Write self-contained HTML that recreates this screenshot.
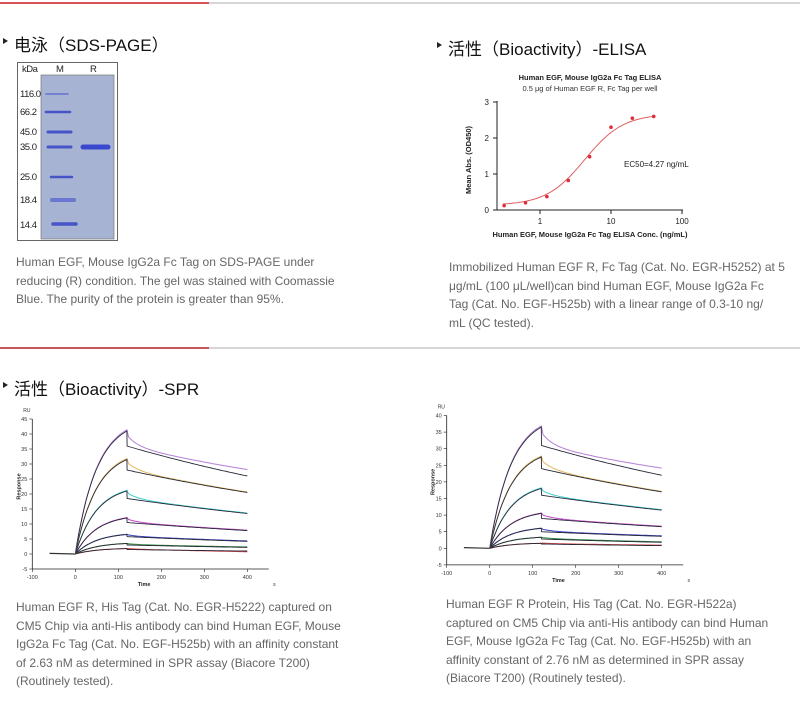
<!DOCTYPE html>
<html><head><meta charset="utf-8"><style>
body{margin:0;width:800px;height:718px;background:#fff;overflow:hidden;position:relative;font-family:"Liberation Sans","Noto Sans CJK SC",sans-serif}
.a{position:absolute}
.h{position:absolute;font-size:17px;color:#111;white-space:nowrap}
.h:before{content:"";position:absolute;left:-11px;top:7px;border-left:5px solid #222;border-top:3px solid transparent;border-bottom:3px solid transparent}
.c{position:absolute;font-size:12px;color:#666;line-height:18.5px;white-space:nowrap}
</style></head><body>
<div class="a" style="left:0;top:2px;width:800px;height:2px;background:#d6d6d6"></div>
<div class="a" style="left:0;top:2px;width:209px;height:2px;background:#d9535a"></div>
<div class="a" style="left:0;top:347px;width:800px;height:2px;background:#d6d6d6"></div>
<div class="a" style="left:0;top:347px;width:209px;height:2px;background:#c9585c"></div>

<div class="h" style="left:14px;top:31px">电泳（SDS-PAGE）</div>
<div class="h" style="left:448px;top:35px">活性（Bioactivity）-ELISA</div>
<div class="h" style="left:14px;top:375px">活性（Bioactivity）-SPR</div>

<svg class="a" style="left:0;top:0" width="800" height="718">
<g font-family="Liberation Sans,sans-serif">
<rect x="17.5" y="62.5" width="100" height="178" fill="#fff" stroke="#666"/>
<rect x="41" y="75" width="73" height="164" fill="#a7b3d3" stroke="#777" stroke-width="0.7"/>
<g font-size="9.5" fill="#222" letter-spacing="-0.5">
<text x="22" y="72">kDa</text><text x="56" y="72">M</text><text x="90" y="72">R</text>
<text x="20" y="97">116.0</text><text x="20" y="115">66.2</text><text x="20" y="135">45.0</text><text x="20" y="150">35.0</text><text x="20" y="180">25.0</text><text x="20" y="203">18.4</text><text x="20" y="228">14.4</text>
</g>
<g stroke="#4654c8" stroke-linecap="round">
<line x1="46" y1="94" x2="68" y2="94" stroke-width="1.5" stroke="#6570cc"/>
<line x1="46" y1="112" x2="70" y2="112" stroke-width="2.5"/>
<line x1="48" y1="132" x2="71" y2="132" stroke-width="3"/>
<line x1="48" y1="147" x2="71" y2="147" stroke-width="3"/>
<line x1="51" y1="177" x2="72" y2="177" stroke-width="2.5"/>
<line x1="52" y1="200" x2="74" y2="200" stroke-width="4" stroke="#6a76d2"/>
<line x1="53" y1="224" x2="76" y2="224" stroke-width="3.5"/>
<line x1="83" y1="147" x2="108" y2="147" stroke-width="5" stroke="#3a48d0"/>
</g>

<text x="590" y="80" font-size="7.5" font-weight="bold" text-anchor="middle" fill="#222">Human EGF, Mouse IgG2a Fc Tag ELISA</text>
<text x="590" y="91" font-size="7.5" text-anchor="middle" fill="#333">0.5 μg of Human EGF R, Fc Tag per well</text>
<g stroke="#222" stroke-width="1">
<line x1="497" y1="101" x2="497" y2="210"/><line x1="497" y1="210" x2="683" y2="210"/>
<line x1="493" y1="102" x2="497" y2="102"/><line x1="493" y1="138" x2="497" y2="138"/><line x1="493" y1="174" x2="497" y2="174"/><line x1="493" y1="210" x2="497" y2="210"/>
<line x1="540" y1="210" x2="540" y2="214"/><line x1="611" y1="210" x2="611" y2="214"/><line x1="682" y1="210" x2="682" y2="214"/>
</g>
<g font-size="8" fill="#222">
<text x="489" y="105" text-anchor="end">3</text><text x="489" y="141" text-anchor="end">2</text><text x="489" y="177" text-anchor="end">1</text><text x="489" y="213" text-anchor="end">0</text>
<text x="540" y="224" text-anchor="middle">1</text><text x="611" y="224" text-anchor="middle">10</text><text x="682" y="224" text-anchor="middle">100</text>
<text x="624" y="167">EC50=4.27 ng/mL</text>
</g>
<text x="590" y="237" font-size="7.5" font-weight="bold" text-anchor="middle" fill="#222">Human EGF, Mouse IgG2a Fc Tag ELISA Conc. (ng/mL)</text>
<text transform="translate(471,160) rotate(-90)" font-size="7.5" font-weight="bold" text-anchor="middle" fill="#222">Mean Abs. (OD450)</text>
<path id="el" fill="none" stroke="#e06060" stroke-width="1"/>
<g id="elp" fill="#e02c3c"></g>

<g id="spr1"></g><g id="spr2"></g>
</g>
</svg>

<div class="c" style="left:16px;top:253px">Human EGF, Mouse IgG2a Fc Tag on SDS-PAGE under<br>reducing (R) condition. The gel was stained with Coomassie<br>Blue. The purity of the protein is greater than 95%.</div>
<div class="c" style="left:449px;top:258px">Immobilized Human EGF R, Fc Tag (Cat. No. EGR-H5252) at 5<br>μg/mL (100 μL/well)can bind Human EGF, Mouse IgG2a Fc<br>Tag (Cat. No. EGF-H525b) with a linear range of 0.3-10 ng/<br>mL (QC tested).</div>
<div class="c" style="left:16px;top:598px">Human EGF R, His Tag (Cat. No. EGR-H5222) captured on<br>CM5 Chip via anti-His antibody can bind Human EGF, Mouse<br>IgG2a Fc Tag (Cat. No. EGF-H525b) with an affinity constant<br>of 2.63 nM as determined in SPR assay (Biacore T200)<br>(Routinely tested).</div>
<div class="c" style="left:446px;top:595px">Human EGF R Protein, His Tag (Cat. No. EGR-H522a)<br>captured on CM5 Chip via anti-His antibody can bind Human<br>EGF, Mouse IgG2a Fc Tag (Cat. No. EGF-H525b) with an<br>affinity constant of 2.76 nM as determined in SPR assay<br>(Biacore T200) (Routinely tested).</div>

<script>
var NS="http://www.w3.org/2000/svg";
function el(p,t,a,txt){var e=document.createElementNS(NS,t);for(var k in a)e.setAttribute(k,a[k]);if(txt!=null)e.textContent=txt;p.appendChild(e);return e;}
(function(){
 var X=function(c){return 540+71*Math.log10(c)},Y=function(v){return 210-36*v};
 var f=function(c){return 0.13+(2.67-0.13)/(1+Math.pow(4.27/c,1.6))};
 var d="";for(var i=0;i<=100;i++){var lc=Math.log10(0.3)+i*(Math.log10(40)-Math.log10(0.3))/100,c=Math.pow(10,lc);d+=(i?"L":"M")+X(c).toFixed(1)+" "+Y(f(c)).toFixed(1);}
 document.getElementById("el").setAttribute("d",d);
 var cs=[0.3125,0.625,1.25,2.5,5,10,20,40],vs=[0.12,0.2,0.37,0.82,1.48,2.3,2.55,2.6],g=document.getElementById("elp");
 for(var i=0;i<8;i++)el(g,"circle",{cx:X(cs[i]),cy:Y(vs[i]),r:1.8});
})();
function spr(g,o){
 var X=function(t){return o.x0+0.43*t},Y=function(v){return o.y0-o.s*v};
 el(g,"line",{x1:X(-100),y1:Y(o.ymax),x2:X(-100),y2:Y(-5),stroke:"#222","stroke-width":0.8});
 el(g,"line",{x1:X(-100),y1:Y(-5),x2:X(450),y2:Y(-5),stroke:"#222","stroke-width":0.8});
 for(var v=-5;v<=o.ymax;v+=5){el(g,"line",{x1:X(-100)-3,y1:Y(v),x2:X(-100),y2:Y(v),stroke:"#222","stroke-width":0.6});el(g,"text",{x:X(-100)-5,y:Y(v)+2,"font-size":5.5,"text-anchor":"end",fill:"#333"},v);}
 for(var t=-100;t<=400;t+=100){el(g,"line",{x1:X(t),y1:Y(-5),x2:X(t),y2:Y(-5)+3,stroke:"#222","stroke-width":0.6});el(g,"text",{x:X(t),y:Y(-5)+10,"font-size":5.5,"text-anchor":"middle",fill:"#333"},t);}
 el(g,"text",{x:X(-100)-9,y:Y(o.ymax)-7,"font-size":5,fill:"#333"},"RU");
 el(g,"text",{x:X(160),y:Y(-5)+17,"font-size":5.5,"text-anchor":"middle",fill:"#222","font-weight":"bold"},"Time");
 el(g,"text",{x:X(460),y:Y(-5)+17,"font-size":5,fill:"#333"},"s");
 el(g,"text",{transform:"translate("+(X(-100)-12)+","+Y(o.ymax/2)+") rotate(-90)","font-size":5.5,"text-anchor":"middle",fill:"#222","font-weight":"bold"},"Response");
 var cols=["#b57fd6","#e2b95a","#3fcfd0","#c044c8","#3440c0","#2a8a3a","#d04040"];
 el(g,"line",{x1:X(-60),y1:Y(0.2),x2:X(0),y2:Y(0),stroke:"#333","stroke-width":1.2});
 o.c.forEach(function(r,i){
  var P=r[0],D=r[1],E=r[2],de=r[3]||E,k=0.02,A=P/(1-Math.exp(-k*120)),kd=Math.log(D/E)/280;
  var fit=function(t){return t<0?0:t<=120?A*(1-Math.exp(-k*t)):D*Math.exp(-kd*(t-120));};
  var dat=function(t){if(t<=120)return fit(t)*1.01;return fit(t)+(P-D)*0.7*Math.exp(-(t-120)/25)+(de-E)*(t-120)/280+0.15;};
  var d1="",d2="";
  for(var t=0;t<=400;t+=4){d1+=(t>0?"L":"M")+X(t).toFixed(1)+" "+Y(dat(t)).toFixed(1);}
  for(var t=0;t<=400;t+=4){d2+=(t>0?"L":"M")+X(t).toFixed(1)+" "+Y(fit(t)).toFixed(1);if(t==120)d2+="L"+X(120.5).toFixed(1)+" "+Y(D).toFixed(1);}
  el(g,"path",{d:d1,fill:"none",stroke:cols[i],"stroke-width":1});
  el(g,"path",{d:d2,fill:"none",stroke:"#2a2a3a","stroke-width":0.9});
 });
}
spr(document.getElementById("spr1"),{x0:75.3,y0:554,s:3,ymax:45,c:[[41,36,26,28],[31.5,28,20.5],[21,18.5,13.5],[12,10.5,7.8],[6.5,5.8,4.2],[3.5,3,2.2],[1.8,1.5,1.0,0.6]]});
spr(document.getElementById("spr2"),{x0:489.7,y0:548.3,s:3.32,ymax:40,c:[[36.5,31,22,24],[27.5,24,17],[18,16,11.5],[10.5,9,6.5],[6,5,3.6],[3.3,2.8,1.8],[1.5,1.3,0.8]]});
</script>
</body></html>
